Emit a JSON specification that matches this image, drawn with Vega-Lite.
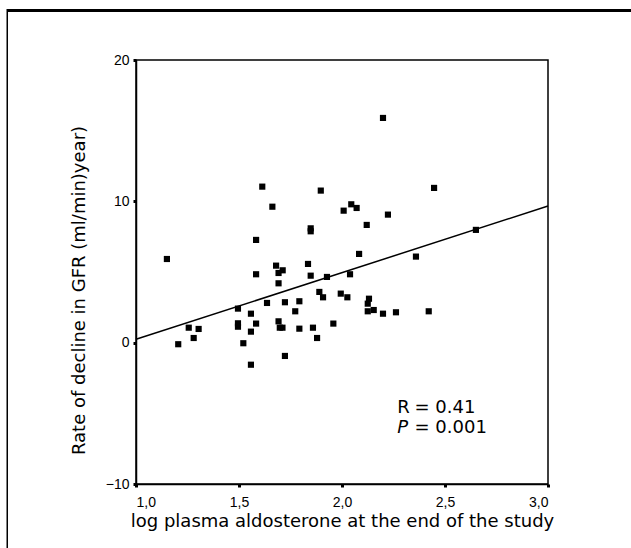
{
  "$schema": "https://vega.github.io/schema/vega-lite/v6.json",
  "width": 412,
  "height": 424,
  "autosize": "none",
  "padding": {"left": 136, "top": 60, "right": 83, "bottom": 64},
  "background": "white",
  "config": {
    "view": {"stroke": "black", "strokeWidth": 1.5},
    "axis": {
      "grid": false,
      "domainColor": "black",
      "domainWidth": 1.5,
      "tickColor": "black",
      "tickSize": 3,
      "tickWidth": 3,
      "labelFont": "Liberation Sans",
      "labelFontSize": 14,
      "labelColor": "black",
      "titleFont": "DejaVu Sans",
      "titleFontSize": 18,
      "titleFontWeight": "normal",
      "titleColor": "black"
    }
  },
  "datasets": {
    "points": [
      {"x": 1.613, "y": 11.04}, {"x": 1.897, "y": 10.76}, {"x": 1.662, "y": 9.62},
      {"x": 2.008, "y": 9.34}, {"x": 2.045, "y": 9.79}, {"x": 1.848, "y": 8.09},
      {"x": 1.848, "y": 7.88}, {"x": 1.583, "y": 7.27}, {"x": 1.150, "y": 5.92},
      {"x": 1.680, "y": 5.45}, {"x": 1.712, "y": 5.12}, {"x": 1.692, "y": 4.93},
      {"x": 1.835, "y": 5.57}, {"x": 1.583, "y": 4.84}, {"x": 1.848, "y": 4.74},
      {"x": 1.927, "y": 4.65}, {"x": 2.039, "y": 4.84}, {"x": 1.692, "y": 4.20},
      {"x": 1.890, "y": 3.59}, {"x": 1.908, "y": 3.21}, {"x": 1.994, "y": 3.47},
      {"x": 2.026, "y": 3.21}, {"x": 1.636, "y": 2.81}, {"x": 1.723, "y": 2.86},
      {"x": 1.793, "y": 2.93}, {"x": 1.495, "y": 2.41}, {"x": 1.773, "y": 2.22},
      {"x": 1.558, "y": 2.05}, {"x": 1.495, "y": 1.37}, {"x": 1.495, "y": 1.13},
      {"x": 1.583, "y": 1.35}, {"x": 1.692, "y": 1.51}, {"x": 1.698, "y": 1.06},
      {"x": 1.711, "y": 1.06}, {"x": 1.793, "y": 0.99}, {"x": 1.859, "y": 1.06},
      {"x": 1.958, "y": 1.35}, {"x": 1.256, "y": 1.06}, {"x": 1.304, "y": 0.97},
      {"x": 1.280, "y": 0.33}, {"x": 1.205, "y": -0.11}, {"x": 1.558, "y": 0.78},
      {"x": 1.521, "y": -0.04}, {"x": 1.879, "y": 0.33}, {"x": 1.723, "y": -0.94},
      {"x": 1.558, "y": -1.56}, {"x": 2.199, "y": 15.90}, {"x": 2.447, "y": 10.95},
      {"x": 2.071, "y": 9.53}, {"x": 2.223, "y": 9.06}, {"x": 2.120, "y": 8.33},
      {"x": 2.650, "y": 7.98}, {"x": 2.083, "y": 6.28}, {"x": 2.359, "y": 6.09},
      {"x": 2.131, "y": 3.11}, {"x": 2.125, "y": 2.76}, {"x": 2.125, "y": 2.22},
      {"x": 2.154, "y": 2.31}, {"x": 2.199, "y": 2.05}, {"x": 2.262, "y": 2.15},
      {"x": 2.421, "y": 2.22}
    ],
    "fit": [
      {"x": 1.0, "y": 0.24},
      {"x": 3.0, "y": 9.67}
    ]
  },
  "layer": [
    {
      "data": {"name": "points"},
      "mark": {"type": "point", "shape": "square", "filled": true, "color": "black", "size": 38, "opacity": 1},
      "encoding": {
        "x": {
          "field": "x", "type": "quantitative",
          "scale": {"domain": [1, 3], "nice": false, "zero": false},
          "axis": {
            "values": [1, 1.5, 2, 2.5, 3],
            "labelExpr": "replace(format(datum.value, '.1f'), '.', ',')",
            "labelPadding": 8,
            "title": "log plasma aldosterone at the end of the study",
            "titlePadding": 3
          }
        },
        "y": {
          "field": "y", "type": "quantitative",
          "scale": {"domain": [-10, 20], "nice": false, "zero": false},
          "axis": {
            "values": [-10, 0, 10, 20],
            "labelPadding": 4,
            "title": "Rate of decline in GFR (ml/min)year)",
            "titlePadding": 17,
            "titleY": 230
          }
        }
      }
    },
    {
      "data": {"name": "fit"},
      "mark": {"type": "line", "color": "black", "strokeWidth": 1.5},
      "encoding": {
        "x": {"field": "x", "type": "quantitative"},
        "y": {"field": "y", "type": "quantitative"}
      }
    },
    {
      "data": {"values": [{}]},
      "mark": {"type": "text", "text": "R", "align": "left", "baseline": "alphabetic", "font": "DejaVu Sans", "fontSize": 18, "color": "black"},
      "encoding": {
        "x": {"datum": 2.268, "type": "quantitative"},
        "y": {"datum": -4.97, "type": "quantitative"}
      }
    },
    {
      "data": {"values": [{}]},
      "mark": {"type": "text", "text": "= 0.41", "align": "left", "baseline": "alphabetic", "font": "DejaVu Sans", "fontSize": 18, "color": "black"},
      "encoding": {
        "x": {"datum": 2.352, "type": "quantitative"},
        "y": {"datum": -4.97, "type": "quantitative"}
      }
    },
    {
      "data": {"values": [{}]},
      "mark": {"type": "text", "text": "P", "align": "left", "baseline": "alphabetic", "font": "DejaVu Sans", "fontStyle": "italic", "fontSize": 18, "color": "black"},
      "encoding": {
        "x": {"datum": 2.268, "type": "quantitative"},
        "y": {"datum": -6.39, "type": "quantitative"}
      }
    },
    {
      "data": {"values": [{}]},
      "mark": {"type": "text", "text": "= 0.001", "align": "left", "baseline": "alphabetic", "font": "DejaVu Sans", "fontSize": 18, "color": "black"},
      "encoding": {
        "x": {"datum": 2.352, "type": "quantitative"},
        "y": {"datum": -6.39, "type": "quantitative"}
      }
    },
    {
      "data": {"values": [{}]},
      "mark": {"type": "rule", "color": "black", "strokeWidth": 3, "clip": false},
      "encoding": {
        "x": {"datum": 0.375, "type": "quantitative"},
        "x2": {"datum": 3.6},
        "y": {"datum": 23.5, "type": "quantitative"}
      }
    },
    {
      "data": {"values": [{}]},
      "mark": {"type": "rule", "color": "black", "strokeWidth": 1.5, "clip": false},
      "encoding": {
        "x": {"datum": 0.375, "type": "quantitative"},
        "y": {"datum": 23.6, "type": "quantitative"},
        "y2": {"datum": -16}
      }
    }
  ]
}
